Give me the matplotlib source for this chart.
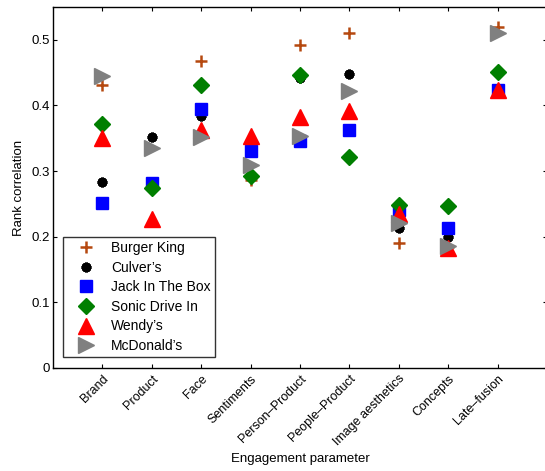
import matplotlib
matplotlib.use('Agg')
import matplotlib.pyplot as plt
import numpy

# values
params=['Brand','Product','Face','Sentiments','Person\u2013Product','People\u2013Product',
        'Image aesthetics','Concepts','Late\u2013fusion']
brands=['Burger King','Culver\u2019s','Jack In The Box','Sonic Drive In','Wendy\u2019s','McDonald\u2019s']
burger_king=[0.431,0.280,0.468,0.287,0.492,0.511,0.190,0.185,0.519]
culvers    =[0.284,0.352,0.384,0.341,0.442,0.448,0.213,0.200,0.425]
jack_box   =[0.252,0.282,0.394,0.331,0.346,0.363,0.241,0.213,0.424]
sonic      =[0.372,0.274,0.431,0.293,0.447,0.322,0.248,0.247,0.451]
wendys     =[0.350,0.227,0.363,0.354,0.383,0.392,0.235,0.183,0.424]
mcdonalds  =[0.445,0.335,0.352,0.310,0.354,0.422,0.221,0.186,0.511]

plt.rcParams['font.family']='Liberation Sans'
fig=plt.figure(figsize=(5.45,4.71),dpi=100)
# right spine falls just outside the picture, as in the reference
ax=fig.add_axes([53/545.,103/471.,494/545.,361/471.])

x=numpy.arange(1,len(params)+1)
ax.plot(x,burger_king,'+',color='#b5480f',ms=8,mew=1.8,ls='none',label=brands[0])
ax.plot(x,culvers,marker=(8,2,0),color='k',ms=7,mew=2.2,ls='none',label=brands[1])
ax.plot(x,jack_box,'s',color='#0000ff',ms=8,mec='#0000ff',ls='none',label=brands[2])
ax.plot(x,sonic,'D',color='#007f00',ms=8,ls='none',label=brands[3])
ax.plot(x,wendys,'^',color='#ff0000',ms=11,ls='none',label=brands[4])
ax.plot(x,mcdonalds,'>',color='#808080',ms=11,ls='none',label=brands[5])

ax.set_xlim(0,10)
ax.set_ylim(0,0.55)
ax.set_xticks(x)
ax.set_xticklabels(params,rotation=45,ha='right',rotation_mode='anchor',fontsize=9)
ax.set_yticks([0,0.1,0.2,0.3,0.4,0.5])
ax.set_yticklabels(['0','0.1','0.2','0.3','0.4','0.5'],fontsize=9.5)
ax.tick_params(axis='both',which='both',direction='in',top=True,right=True,length=3)
ax.tick_params(axis='y',pad=2)
ax.set_xlabel('Engagement parameter',fontsize=9.5)
ax.xaxis.set_label_coords(0.5,-0.235)
ax.set_ylabel('Rank correlation',fontsize=9.5)
ax.yaxis.set_label_coords(-0.057,0.5)
for s in ax.spines.values(): s.set_linewidth(1.0)

leg=ax.legend(loc='lower left',bbox_to_anchor=(0.02,0.03),borderaxespad=0,fontsize=10,
              frameon=True,fancybox=False,edgecolor='k',handletextpad=0.35,borderpad=0.3,
              labelspacing=0.4,numpoints=1,handlelength=2.8)
leg.get_frame().set_linewidth(1.0)

fig.savefig('out.png',dpi=100)
